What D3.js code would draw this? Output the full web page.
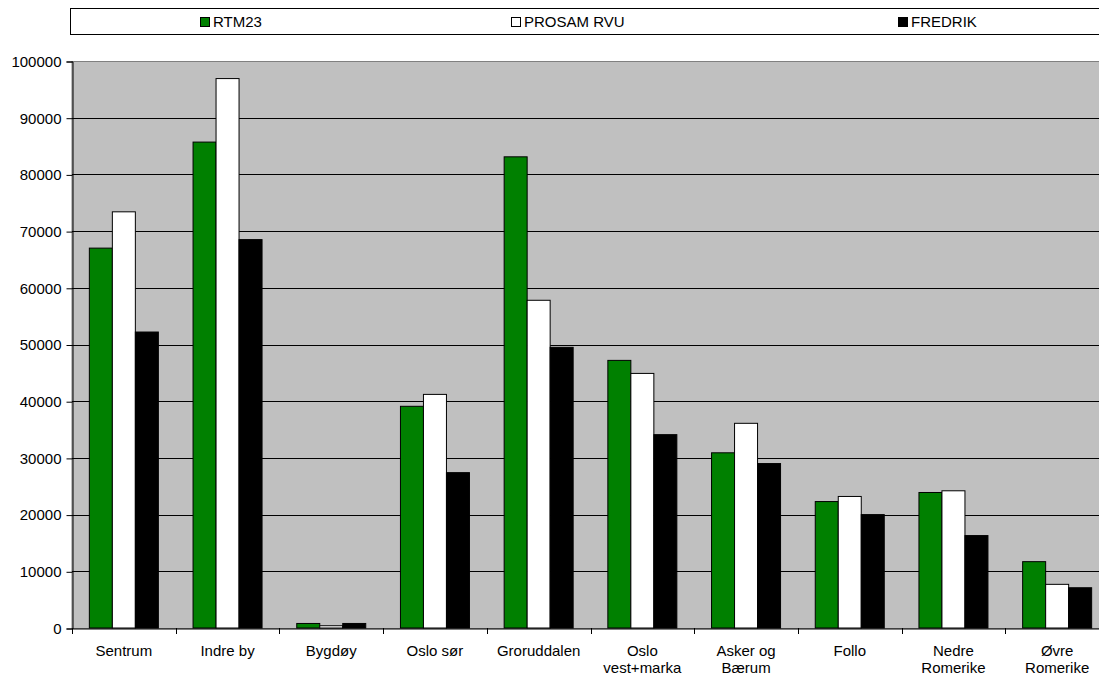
<!DOCTYPE html>
<html><head><meta charset="utf-8">
<script src="https://cdn.jsdelivr.net/npm/d3@7"></script>
<style>body{margin:0;background:#fff}svg{display:block;font-family:"Liberation Sans",Arial,sans-serif}</style>
</head><body>
<svg id="c" width="1099" height="677"></svg>
<script>
const categories = ["Sentrum","Indre by","Bygdøy","Oslo sør","Groruddalen","Oslo\nvest+marka","Asker og\nBærum","Follo","Nedre\nRomerike","Øvre\nRomerike"];
const seriesNames = ["RTM23","PROSAM RVU","FREDRIK"];
const rtm23 = [67000, 85700, 800, 39100, 83100, 47200, 30900, 22300, 23900, 11700];
const prosam = [73400, 96900, 400, 41200, 57800, 44900, 36100, 23200, 24200, 7700];
const fredrik = [52200, 68500, 800, 27400, 49500, 34100, 29000, 20000, 16300, 7100];
const yTicks = [0,10000,20000,30000,40000,50000,60000,70000,80000,90000,100000];
const colors = ["#008000","#ffffff","#000000"];
const seriesVals = [rtm23, prosam, fredrik];

const FS = 15;
const svg = d3.select("#c");
const pLeft = 72, pTop = 61, pBottom = 628, pRight = 72 + 10*103.7;
const x = d3.scaleBand().domain(categories).range([pLeft, pRight]).paddingInner(0).paddingOuter(0);
const y = d3.scaleLinear().domain([0,100000]).range([pBottom, pTop]);
const groupW = 69, barW = groupW/3;
const xs = d3.scaleBand().domain(seriesNames).range([0, groupW]).padding(0);

// legend box
svg.append("rect").attr("x",70.5).attr("y",8.5).attr("width",1040).attr("height",26)
  .attr("fill","#fff").attr("stroke","#000").attr("stroke-width",1);
const legX = [200, 511, 898];
seriesNames.forEach((s,i)=>{
  svg.append("rect").attr("x",legX[i]+0.5).attr("y",17.5).attr("width",9).attr("height",9)
    .attr("fill",colors[i]).attr("stroke","#000");
  svg.append("text").attr("x",legX[i]+13).attr("y",27).attr("font-size",FS).attr("fill","#000").text(s);
});

// plot bg
svg.append("rect").attr("x",pLeft).attr("y",pTop+0.5).attr("width",pRight-pLeft).attr("height",pBottom-pTop)
  .attr("fill","#c0c0c0").attr("stroke","#808080");

// gridlines
svg.append("g").selectAll("line").data(yTicks.filter(d=>d>0 && d<100000)).join("line")
  .attr("x1",pLeft).attr("x2",pRight).attr("y1",d=>Math.round(y(d))+0.5).attr("y2",d=>Math.round(y(d))+0.5)
  .attr("stroke","#000").attr("stroke-width",1);

// bars
categories.forEach((c,ci)=>{
  seriesNames.forEach((s,si)=>{
    const v = seriesVals[si][ci];
    const x0 = x(c) + (x.bandwidth()-groupW)/2 + xs(s);
    svg.append("rect").attr("x",x0).attr("y",y(v)).attr("width",barW).attr("height",y(0)-y(v))
      .attr("fill",colors[si]).attr("stroke","#000").attr("stroke-width",1);
  });
});

// y axis
const ya = d3.axisLeft(y).tickValues(yTicks).tickFormat(d3.format("d")).tickSize(6).tickPadding(5);
const yg = svg.append("g").attr("transform",`translate(${pLeft+0.5},0.5)`).call(ya);
yg.select(".domain").attr("stroke","#000");
yg.selectAll("text").attr("font-size",FS).attr("fill","#000").attr("font-family","Liberation Sans, Arial, sans-serif");

// x axis
const xa = d3.axisBottom(x).tickSize(0).tickFormat("");
const xg = svg.append("g").attr("transform",`translate(0,${pBottom+0.5})`).call(xa);
xg.select(".domain").attr("stroke","#000");
// tick marks at category boundaries
svg.append("g").selectAll("line").data(categories).join("line")
  .attr("x1",d=>Math.round(x(d))+0.5).attr("x2",d=>Math.round(x(d))+0.5)
  .attr("y1",pBottom).attr("y2",pBottom+6).attr("stroke","#000");
// labels
categories.forEach(c=>{
  const lines = c.split("\n");
  const t = svg.append("text").attr("text-anchor","middle").attr("font-size",FS).attr("fill","#000");
  lines.forEach((l,i)=>{
    t.append("tspan").attr("x",x(c)+x.bandwidth()/2).attr("y",656+i*17).text(l);
  });
});
</script>
</body></html>
